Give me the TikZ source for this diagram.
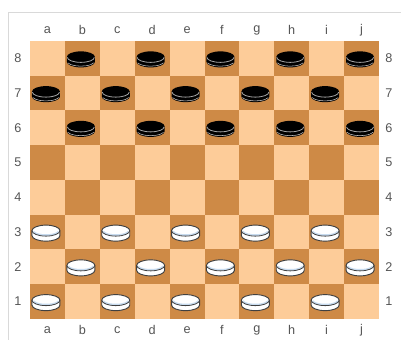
\documentclass[tikz,border=0pt]{standalone}
\usepackage{fontspec}
\setmainfont{Liberation Sans}
\definecolor{lightsq}{RGB}{253,204,153}
\definecolor{darksq}{RGB}{206,138,70}
\definecolor{lblgray}{RGB}{85,85,85}
\definecolor{faceblue}{RGB}{200,220,240}
\tikzset{
  coordlbl/.style={font=\fontsize{9.5}{9.5}\selectfont, text=lblgray, inner sep=0pt},
  blackman/.pic={
    \fill[black] (-14,2.5) -- (-14,-2.5) arc[start angle=180,end angle=360,x radius=14,y radius=5.5]
      -- (14,2.5) arc[start angle=0,end angle=180,x radius=14,y radius=5.5] -- cycle;
    \draw[gray!70,line width=0.6pt] (-13.5,2) arc[start angle=180,end angle=360,x radius=13.5,y radius=5];
    \draw[gray!45,line width=0.4pt] (-13,-3.5) arc[start angle=200,end angle=340,x radius=13.8,y radius=5];
  },
  whiteman/.pic={
    \filldraw[fill=white,draw=black!75,line width=0.7pt] (-14,2.5) -- (-14,-2.5) arc[start angle=180,end angle=360,x radius=14,y radius=5.5]
      -- (14,2.5) arc[start angle=0,end angle=180,x radius=14,y radius=5.5] -- cycle;
    \draw[faceblue,line width=1.3pt] (-12.5,1.6) arc[start angle=190,end angle=350,x radius=12.7,y radius=4.4];
    \draw[black!75,line width=0.6pt] (-14,2.5) arc[start angle=180,end angle=360,x radius=14,y radius=5.5];
  }
}
\begin{document}
\begin{tikzpicture}[x=0.75pt,y=0.75pt]
  \useasboundingbox (0,0) rectangle (401,340);
  % frame
  \draw[gray!30,line width=0.75pt] (8.5,0) -- (8.5,327.5) -- (401,327.5);
  % squares and men
  \foreach \r in {1,...,8} {
    \foreach \i in {0,...,9} {
      \pgfmathtruncatemacro\s{\i+\r}
      \ifodd\s \def\sqcol{darksq}\else\def\sqcol{lightsq}\fi
      \fill[\sqcol] ({30+34.9*\i},{21+34.75*(\r-1)}) rectangle ++(34.9,34.75);
      \ifodd\s
        \ifnum\r>5 \pic at ({30+34.9*(\i+0.5)-1.5},{21+34.75*(\r-0.5)-1}) {blackman};\fi
        \ifnum\r<4 \pic at ({30+34.9*(\i+0.5)-1.5},{21+34.75*(\r-0.5)-1}) {whiteman};\fi
      \fi
    }
  }
  % file letters
  \foreach \c [count=\i from 0] in {a,b,c,d,e,f,g,h,i,j} {
    \node[coordlbl] (top-\c) at ({30+34.9*(\i+0.5)},310) {\c};
    \node[coordlbl] (bot-\c) at ({30+34.9*(\i+0.5)},10) {\c};
  }
  % rank numbers
  \foreach \r in {1,...,8} {
    \node[coordlbl] (left-\r) at (18,{21+34.75*(\r-0.5)}) {\r};
    \node[coordlbl] (right-\r) at (389,{21+34.75*(\r-0.5)}) {\r};
  }
\end{tikzpicture}
\end{document}
